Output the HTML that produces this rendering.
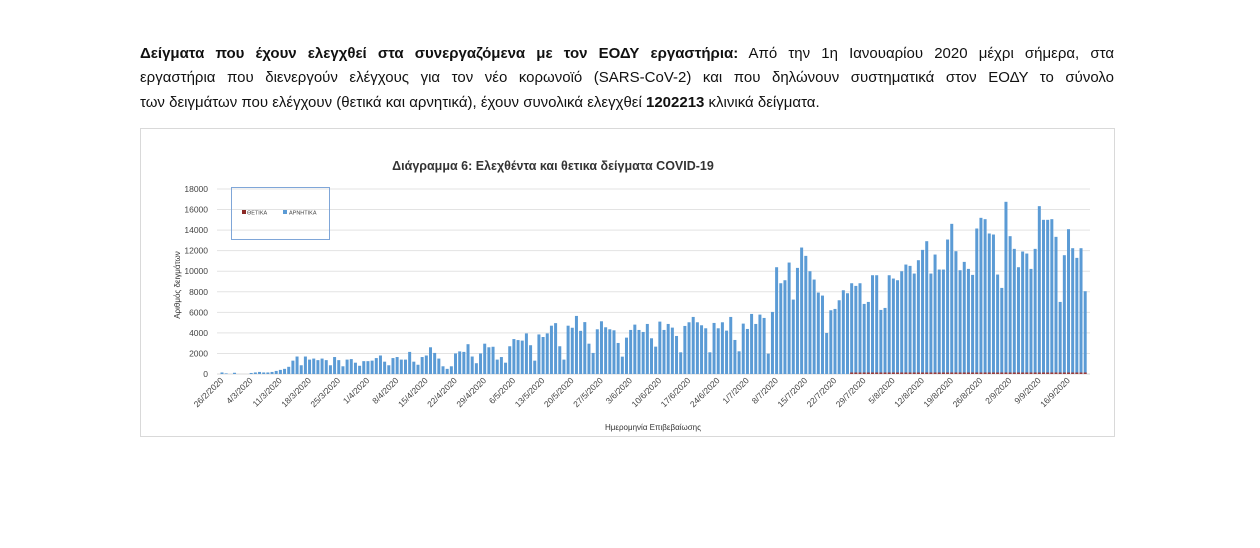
<!DOCTYPE html>
<html><head><meta charset="utf-8"><style>
body{margin:0;width:1260px;height:548px;background:#fff;font-family:"Liberation Sans","DejaVu Sans",sans-serif;position:relative;overflow:hidden}
.l{position:absolute;left:140px;width:974px;font-size:15px;color:#111;white-space:nowrap;text-align:justify;text-align-last:justify}
.l3{text-align-last:left}
</style></head><body>
<div class="l" style="top:45px"><b>Δείγματα που έχουν ελεγχθεί στα συνεργαζόμενα με τον ΕΟΔΥ εργαστήρια:</b> Από την 1η Ιανουαρίου 2020 μέχρι σήμερα, στα</div>
<div class="l" style="top:69px">εργαστήρια που διενεργούν ελέγχους για τον νέο κορωνοϊό (SARS-CoV-2) και που δηλώνουν συστηματικά στον ΕΟΔΥ το σύνολο</div>
<div class="l l3" style="top:94px">των δειγμάτων που ελέγχουν (θετικά και αρνητικά), έχουν συνολικά ελεγχθεί <b>1202213</b> κλινικά δείγματα.</div>
<svg id="c" style="position:absolute;left:0;top:0" width="1260" height="548" font-family="Liberation Sans, sans-serif"></svg>
<script>
var s='';
s+='<rect x="140.5" y="128.5" width="974" height="308" fill="#fff" stroke="#d9d9d9"/>';
s+='<text x="553" y="170" font-size="12.5" font-weight="bold" text-anchor="middle" fill="#333">Διάγραμμα 6: Ελεχθέντα και θετικα δείγματα COVID-19</text>';
var y0=374,k=185/18000;
for(var v=0;v<=18000;v+=2000){var y=y0-v*k;
 if(v>0)s+='<line x1="217" x2="1090" y1="'+y+'" y2="'+y+'" stroke="#e3e3e3"/>';
 s+='<text x="208" y="'+(y+3)+'" font-size="8.5" text-anchor="end" fill="#444">'+v+'</text>';}
s+='<line x1="217" x2="1090" y1="374" y2="374" stroke="#d9d9d9"/>';
var a=[150,60,0,120,0,0,0,100,150,200,150,150,200,300,400,500,700,1300,1700,850,1700,1400,1500,1350,1500,1350,850,1650,1350,750,1400,1450,1100,800,1250,1250,1300,1550,1800,1200,850,1550,1650,1400,1400,2150,1200,900,1650,1800,2600,2050,1500,750,500,750,2000,2200,2150,2900,1700,1050,2000,2950,2600,2650,1400,1650,1100,2700,3400,3300,3250,3950,2800,1300,3850,3600,3950,4700,4950,2700,1400,4700,4500,5650,4200,5050,2950,2050,4350];
var yz=[425,443,449,452,490,531,474,451,435,451,457,433,476,501,426,451,433,444,469,518,439,428,412,428,437,446,518,430,446,428,453,412,481,515,432,448,403,433,405,415,522,397,263,311,302,249,360,265,204,229,275,300,339,348,460,392,388,362,332,341,311,319,311,373,367,287,287,391,385,287,297,302,275,255,259,282,242,211,185,282,225,270,270,180,133,215,272,247,268,286,147,115,119,162,165,285,325,67,170,208,263,216,222,268,208,80,121,121,119,172,367,227,149,206,235,206,335];
yz.forEach(function(z){a.push((583-z)/30.8*1000)});
var dx=4.17,x0=222;
a.forEach(function(v,i){var h=v*k,x=x0+i*dx-1.5;
 s+='<rect x="'+x.toFixed(2)+'" y="'+(y0-h).toFixed(2)+'" width="3" height="'+h.toFixed(2)+'" fill="#5b9bd5"/>';
 if(i>150&&v>1000)s+='<rect x="'+x.toFixed(2)+'" y="'+(y0-1.5)+'" width="3" height="1.5" fill="#9e3a38"/>';});
var md=[31,29,31,30,31,30,31,31,30],d=26,m=2;
for(var i=0;i<=203;i+=7){var x=x0+i*dx+2;
 s+='<text transform="translate('+x+',381) rotate(-45)" font-size="8.5" text-anchor="end" fill="#444">'+d+'/'+m+'/2020</text>';
 d+=7;while(d>md[m-1]){d-=md[m-1];m++;}}
s+='<text transform="translate(180,285) rotate(-90)" font-size="8" text-anchor="middle" fill="#333">Αριθμός δειγμάτων</text>';
s+='<text x="653" y="430" font-size="8" text-anchor="middle" fill="#333">Ημερομηνία Επιβεβαίωσης</text>';
s+='<rect x="231.5" y="187.5" width="98" height="52" fill="none" stroke="#7fa6d8"/>';
s+='<rect x="242" y="210" width="4" height="4" fill="#8b2a26"/><text x="247" y="214.5" font-size="5.5" fill="#444">ΘΕΤΙΚΑ</text>';
s+='<rect x="283" y="210" width="4" height="4" fill="#5b9bd5"/><text x="289" y="214.5" font-size="5.5" fill="#444">ΑΡΝΗΤΙΚΑ</text>';
document.getElementById('c').innerHTML=s;
</script>
</body></html>
